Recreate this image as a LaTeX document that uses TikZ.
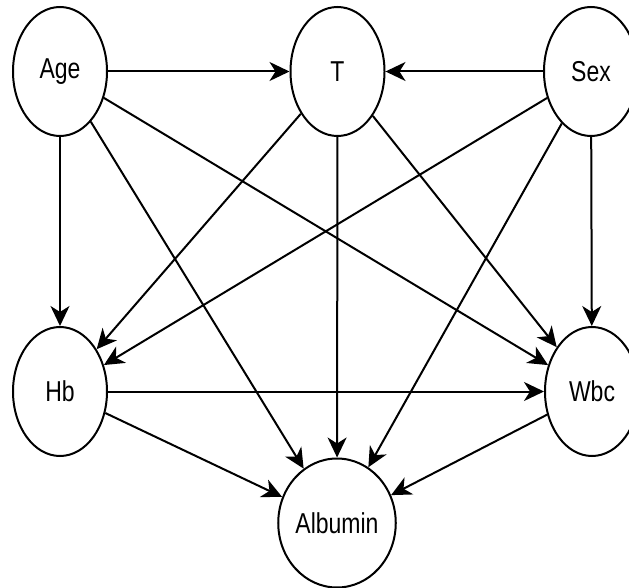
\documentclass[tikz,border=0pt]{standalone}
\usepackage{fontspec}
\setmainfont{Liberation Sans}
\usetikzlibrary{shapes.geometric,arrows.meta}
\newcommand{\vlabel}[1]{\raisebox{-3pt}{\scalebox{1}[1.25]{#1}}}
\begin{document}
\begin{tikzpicture}[x=1pt,y=-1pt,
  var/.style={ellipse,draw,line width=2pt,minimum width=94pt,minimum height=129pt,
    inner sep=0pt,font=\fontsize{23}{27}\selectfont},
  link/.style={line width=2pt,-{Stealth[length=20pt,width=19pt,inset=6pt]}}]
\useasboundingbox (0,0) rectangle (629,588);
% variables
\node[var] (age) at (60,71.5) {\vlabel{Age}};
\node[var] (t)   at (337.5,71.5) {\vlabel{T}};
\node[var] (sex) at (591,71.5) {\vlabel{Sex}};
\node[var] (hb)  at (60,391.5) {\vlabel{Hb}};
\node[var] (wbc) at (592,391.5) {\vlabel{Wbc}};
\node[var] (alb) at (337,523) {\vlabel{Albumin}};
% dependencies
\draw[link] (age) -- (t);
\draw[link] (sex) -- (t);
\draw[link] (age) -- (hb);
\draw[link] (age) -- (alb);
\draw[link] (age) -- (wbc);
\draw[link] (t) -- (hb);
\draw[link] (t) -- (alb);
\draw[link] (t) -- (wbc);
\draw[link] (sex) -- (hb);
\draw[link] (sex) -- (alb);
\draw[link] (sex) -- (wbc);
\draw[link] (hb) -- (wbc);
\draw[link] (hb) -- (alb);
\draw[link] (wbc) -- (alb);
\end{tikzpicture}
\end{document}
